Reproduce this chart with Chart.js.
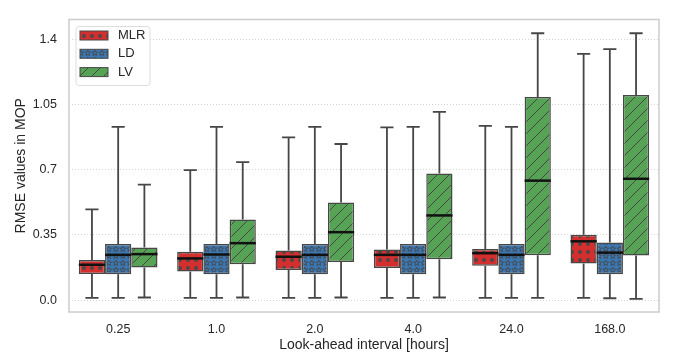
<!DOCTYPE html>
<html>
<head>
<meta charset="utf-8">
<script src="https://cdn.jsdelivr.net/npm/chart.js@4"></script>
<style>
    body { margin: 0; background: #ffffff; }
    #contenedor { width: 673px; height: 360px; }
</style>
</head>
<body>
<div id="contenedor"><canvas id="grafico" width="673" height="360"></canvas></div>
<script>
// Intervalos (categorías del eje X)
const categorias = ['0.25', '1.0', '2.0', '4.0', '24.0', '168.0'];

// Estadísticos por intervalo: [mínimo, Q1, mediana, Q3, máximo]
const estadisticasMLR = [
    [0.012, 0.140, 0.190, 0.216, 0.488],
    [0.012, 0.154, 0.224, 0.260, 0.698],
    [0.012, 0.162, 0.233, 0.267, 0.875],
    [0.012, 0.173, 0.243, 0.272, 0.928],
    [0.012, 0.185, 0.252, 0.274, 0.936],
    [0.012, 0.197, 0.316, 0.351, 1.323]
];
const estadisticasLD = [
    [0.012, 0.139, 0.243, 0.301, 0.931],
    [0.012, 0.139, 0.245, 0.301, 0.931],
    [0.012, 0.139, 0.243, 0.301, 0.931],
    [0.012, 0.139, 0.243, 0.301, 0.931],
    [0.012, 0.139, 0.243, 0.301, 0.931],
    [0.010, 0.139, 0.255, 0.310, 1.349]
];
const estadisticasLV = [
    [0.014, 0.175, 0.247, 0.282, 0.621],
    [0.014, 0.193, 0.306, 0.433, 0.741],
    [0.014, 0.205, 0.365, 0.524, 0.839],
    [0.014, 0.219, 0.455, 0.681, 1.012],
    [0.012, 0.241, 0.642, 1.092, 1.434],
    [0.007, 0.239, 0.652, 1.102, 1.434]
];

// Marcas del eje Y
const ticksY = [0.0, 0.35, 0.7, 1.05, 1.4];
const etiquetasY = ['0.0', '0.35', '0.7', '1.05', '1.4'];

const colorBorde = '#474747';
const colorTexto = '#262626';
const fuente = '"Liberation Sans", Arial, sans-serif';

// Función para crear un patrón de relleno (tipo hatch)
function crearPatron(color, tipo) {
    const size = tipo === 'lineas' ? 12 : (tipo === 'estrellas' ? 7.5 : 8);
    const c = document.createElement('canvas');
    c.width = size;
    c.height = size;
    const ctx = c.getContext('2d');
    ctx.fillStyle = color;
    ctx.fillRect(0, 0, size, size);
    ctx.strokeStyle = colorBorde;
    ctx.fillStyle = colorBorde;
    ctx.lineWidth = 1;

    if (tipo === 'puntos') {
        ctx.beginPath();
        ctx.arc(4, 4, 1.9, 0, Math.PI * 2);
        ctx.fill();
    } else if (tipo === 'estrellas') {
        ctx.beginPath();
        for (let i = 0; i < 10; i++) {
            const r = i % 2 === 0 ? 3.0 : 1.3;
            const a = -Math.PI / 2 + i * Math.PI / 5;
            const px = 3.75 + r * Math.cos(a);
            const py = 4.1 + r * Math.sin(a);
            if (i === 0) ctx.moveTo(px, py); else ctx.lineTo(px, py);
        }
        ctx.closePath();
        ctx.lineWidth = 0.9;
        ctx.stroke();
    } else if (tipo === 'lineas') {
        ctx.beginPath();
        ctx.moveTo(0, size);
        ctx.lineTo(size, 0);
        ctx.moveTo(-2, 2);
        ctx.lineTo(2, -2);
        ctx.moveTo(size - 2, size + 2);
        ctx.lineTo(size + 2, size - 2);
        ctx.stroke();
    }
    return ctx.createPattern(c, 'repeat');
}

const series = [
    { nombre: 'MLR', stats: estadisticasMLR, color: '#d22f2e', patron: 'puntos' },
    { nombre: 'LD', stats: estadisticasLD, color: '#3b77b3', patron: 'estrellas' },
    { nombre: 'LV', stats: estadisticasLV, color: '#56a355', patron: 'lineas' }
];

const datasets = series.map(s => ({
    label: s.nombre,
    data: s.stats.map(v => [v[1], v[3]]),
    stats: s.stats,
    backgroundColor: crearPatron(s.color, s.patron),
    borderColor: colorBorde,
    borderWidth: 1.5,
    borderSkipped: false,
    barPercentage: 1.0,
    categoryPercentage: 0.8
}));

// Plugin para bigotes, medianas, marco y leyenda
const pluginCajas = {
    id: 'cajas',
    beforeDatasetsDraw(chart) {
        const ctx = chart.ctx;
        const y = chart.scales.y;
        ctx.save();
        ctx.strokeStyle = '#464646';
        ctx.lineWidth = 1.8;
        chart.data.datasets.forEach((ds, i) => {
            const meta = chart.getDatasetMeta(i);
            meta.data.forEach((bar, j) => {
                const [min, q1, , q3, max] = ds.stats[j];
                const cap = bar.width / 4;
                ctx.beginPath();
                ctx.moveTo(bar.x, y.getPixelForValue(q3));
                ctx.lineTo(bar.x, y.getPixelForValue(max));
                ctx.moveTo(bar.x - cap, y.getPixelForValue(max));
                ctx.lineTo(bar.x + cap, y.getPixelForValue(max));
                ctx.moveTo(bar.x, y.getPixelForValue(q1));
                ctx.lineTo(bar.x, y.getPixelForValue(min));
                ctx.moveTo(bar.x - cap, y.getPixelForValue(min));
                ctx.lineTo(bar.x + cap, y.getPixelForValue(min));
                ctx.stroke();
            });
        });
        ctx.restore();
    },
    afterDatasetsDraw(chart) {
        const ctx = chart.ctx;
        const y = chart.scales.y;
        ctx.save();
        ctx.strokeStyle = '#111111';
        ctx.lineWidth = 2.5;
        chart.data.datasets.forEach((ds, i) => {
            const meta = chart.getDatasetMeta(i);
            meta.data.forEach((bar, j) => {
                const py = y.getPixelForValue(ds.stats[j][2]);
                ctx.beginPath();
                ctx.moveTo(bar.x - bar.width / 2, py);
                ctx.lineTo(bar.x + bar.width / 2, py);
                ctx.stroke();
            });
        });
        ctx.restore();
    },
    afterDraw(chart) {
        const ctx = chart.ctx;
        const area = chart.chartArea;
        ctx.save();
        // Marco del área del gráfico
        ctx.strokeStyle = '#cccccc';
        ctx.lineWidth = 1.5;
        ctx.strokeRect(area.left, area.top, area.right - area.left, area.bottom - area.top);

        // Leyenda dentro del área
        const lx = area.left + 7;
        const ly = area.top + 7;
        ctx.beginPath();
        ctx.roundRect(lx, ly, 74, 59, 3);
        ctx.fillStyle = 'rgba(255,255,255,0.85)';
        ctx.fill();
        ctx.strokeStyle = '#dddddd';
        ctx.lineWidth = 1;
        ctx.stroke();

        ctx.font = '13px ' + fuente;
        ctx.textBaseline = 'middle';
        chart.data.datasets.forEach((ds, i) => {
            const cy = ly + 9 + i * 18.3;
            ctx.fillStyle = ds.backgroundColor;
            ctx.fillRect(lx + 4, cy - 4.5, 28, 9);
            ctx.strokeStyle = colorBorde;
            ctx.lineWidth = 1;
            ctx.strokeRect(lx + 4, cy - 4.5, 28, 9);
            ctx.fillStyle = colorTexto;
            ctx.fillText(ds.label, lx + 42, cy);
        });
        ctx.restore();
    }
};

new Chart(document.getElementById('grafico'), {
    type: 'bar',
    data: {
        labels: categorias,
        datasets: datasets
    },
    options: {
        responsive: false,
        animation: false,
        layout: { padding: { top: 6, right: 14, left: 0, bottom: 0 } },
        plugins: {
            legend: { display: false },
            tooltip: { enabled: false }
        },
        scales: {
            x: {
                offset: true,
                grid: { display: false },
                border: { display: false },
                ticks: {
                    color: colorTexto,
                    padding: 2,
                    font: { family: fuente, size: 12.5 }
                },
                title: {
                    display: true,
                    text: 'Look-ahead interval [hours]',
                    color: colorTexto,
                    padding: { top: 0, bottom: 6 },
                    font: { family: fuente, size: 14 }
                },
                afterFit: (scale) => { scale.height = 48; }
            },
            y: {
                min: -0.064,
                max: 1.508,
                grid: { color: '#d4d4d4', lineWidth: 1, drawTicks: false },
                border: { display: false, dash: [1, 2] },
                afterBuildTicks: (scale) => {
                    scale.ticks = ticksY.map(v => ({ value: v }));
                },
                ticks: {
                    color: colorTexto,
                    padding: 12,
                    font: { family: fuente, size: 12.5 },
                    callback: (value, index) => etiquetasY[index]
                },
                title: {
                    display: true,
                    text: 'RMSE values in MOP',
                    color: colorTexto,
                    padding: { top: 13, bottom: 0 },
                    font: { family: fuente, size: 14 }
                },
                afterFit: (scale) => { scale.width = 69; }
            }
        }
    },
    plugins: [pluginCajas]
});
</script>
</body>
</html>
